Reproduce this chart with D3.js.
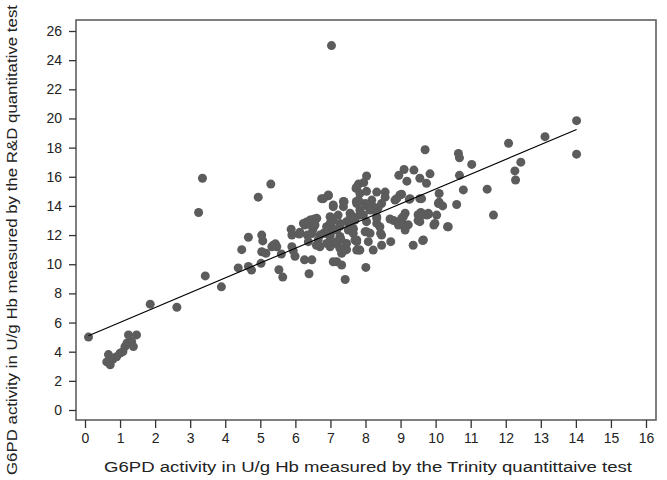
<!DOCTYPE html>
<html><head><meta charset="utf-8">
<script src="https://cdn.jsdelivr.net/npm/d3@7"></script>
<style>body{margin:0;background:#fff}svg{display:block}
text{font-family:"Liberation Sans",Arial,sans-serif;fill:#222}</style>
</head><body><svg id="c" width="667" height="480"></svg>
<script>
const xTicks = d3.range(0, 17, 1);
const yTicks = d3.range(0, 27, 2);
const xTitle = "G6PD activity in U/g Hb measured by the Trinity quantittaive test";
const yTitle = "G6PD activity in U/g Hb measured by the R&D quantitative test";
const fitX = [0.1, 14.02];
const fitY = [5.1, 19.25];
const trinity = [0.1,0.62,0.72,0.67,0.9,1.0,1.14,1.2,1.24,1.33,1.38,1.47,1.08,0.8,
1.86,2.62,3.24,3.35,3.43,3.89,4.94,5.3,7.03,
4.37,4.47,4.66,4.66,4.75,5.02,5.04,5.07,5.04,5.16,5.33,5.47,5.37,5.6,5.53,5.64,5.88,5.9,5.94,5.99,6.11,6.13,6.26,6.39,6.47,
6.23,6.4,6.55,6.5,6.34,6.65,6.7,6.6,6.37,6.47,6.61,6.32,6.47,6.27,6.56,6.7,6.8,6.89,6.89,6.99,6.99,6.99,6.99,7.0,7.08,7.32,7.42,6.99,7.18,7.32,7.46,6.89,7.08,7.27,7.08,7.56,7.65,7.75,7.75,7.37,7.08,7.56,6.8,6.94,7.37,7.73,7.8,7.8,7.18,7.22,7.27,7.46,7.27,7.27,7.46,7.7,7.18,7.18,7.51,7.7,7.84,7.84,7.65,7.94,7.56,7.3,7.42,7.65,7.82,7.75,7.84,
9.7,10.65,10.68,11.03,12.08,13.12,14.02,14.02,12.43,12.26,12.28,11.47,11.65,10.79,10.68,10.6,10.1,10.1,9.84,9.74,9.55,9.38,9.1,8.95,9.18,9.55,9.25,8.98,8.84,8.03,7.95,8.32,8.56,8.56,8.03,7.84,7.74,8.18,9.03,9.6,9.13,9.5,9.58,9.65,9.79,10.03,8.22,8.36,8.46,8.13,7.75,10.34,9.95,9.8,9.5,9.55,9.65,9.36,9.13,9.03,9.22,9.13,8.72,8.46,8.22,8.43,8.01,8.03,8.22,8.7,8.8,8.32,8.03,8.32,9.03,8.94,9.08,8.32,8.41,8.46,8.13,8.08,8.03,8.13,7.99,8.89,9.27,10.36,9.98,9.75,7.99,7.65,9.63,10.08,10.2,
5.9,5.43,6.11,6.42,6.54,6.48,6.75,6.94,7.08,7.39,7.75,7.8];
const rnd = [5.0,3.3,3.1,3.8,3.65,3.9,4.35,4.6,5.15,4.7,4.35,5.15,4.0,3.5,
7.26,7.05,13.55,15.9,9.2,8.45,14.6,15.5,25.0,
9.75,11.0,11.85,9.85,9.6,10.06,12.0,11.6,10.86,10.75,11.2,11.2,11.3,10.7,9.62,9.12,12.4,12.0,10.92,10.55,12.1,12.2,10.3,9.35,10.3,
12.8,12.9,13.0,12.4,12.0,11.66,11.2,11.3,11.55,12.1,13.15,12.9,13.03,12.69,12.69,12.0,12.12,12.57,11.43,11.9,11.55,12.8,13.26,12.1,10.17,9.95,8.95,11.2,11.4,10.75,11.0,12.1,12.4,12.6,13.0,12.8,12.4,11.66,10.97,13.95,14.06,13.5,14.5,14.75,14.3,15.2,14.4,15.5,12.35,13.37,12.8,12.92,11.9,11.09,11.43,11.66,11.55,10.17,12.35,13.03,13.37,13.72,13.26,13.37,13.15,11.7,10.97,12.12,10.97,11.55,10.97,
17.85,17.6,17.3,16.85,18.3,18.75,19.85,17.55,17.0,16.4,15.78,15.15,13.37,15.1,16.1,14.1,14.85,14.25,16.2,15.55,15.9,16.46,16.5,16.1,15.7,14.5,14.45,14.75,14.4,16.05,15.6,14.95,14.95,14.6,15.0,14.86,14.3,14.4,14.8,14.5,13.5,13.4,13.55,13.4,13.49,13.37,13.95,13.86,14.17,14.06,14.17,12.57,12.69,13.44,13.0,12.92,11.66,11.3,12.57,12.9,12.7,12.35,11.55,11.3,10.97,12.12,9.78,12.23,13.72,13.1,13.0,12.8,14.0,13.15,13.15,12.69,13.26,13.26,12.57,12.0,12.12,11.55,12.92,13.72,14.17,14.5,14.5,12.57,12.8,13.37,12.23,12.46,11.62,14.17,14.0,
11.2,11.4,12.07,13.03,13.1,12.6,14.5,14.7,13.95,14.29,15.3,14.3];

const svg = d3.select("#c");
const x = d3.scaleLinear().domain([0,16]).range([85,646]);
const y = d3.scaleLinear().domain([0,26]).range([410,31]);
const L=76,R=656,T=20,B=420;

svg.append("rect").attr("x",L).attr("y",T).attr("width",R-L).attr("height",B-T)
  .attr("fill","none").attr("stroke","#555").attr("stroke-width",1.5);

const xa = svg.append("g").attr("transform",`translate(0,${B})`)
  .call(d3.axisBottom(x).tickValues(xTicks).tickSize(8).tickPadding(5).tickFormat(d3.format("d")));
xa.select(".domain").remove();
xa.selectAll("line").attr("stroke","#333").attr("stroke-width",1.3);
xa.selectAll("text").attr("font-size",14).style("fill","#222");

const ya = svg.append("g").attr("transform",`translate(${L},0)`)
  .call(d3.axisLeft(y).tickValues(yTicks).tickSize(7).tickPadding(7).tickFormat(d3.format("d")));
ya.select(".domain").remove();
ya.selectAll("line").attr("stroke","#333").attr("stroke-width",1.3);
ya.selectAll("text").attr("font-size",14).style("fill","#222");

const pts = trinity.map((v,i)=>[v,rnd[i]]);
svg.append("g").selectAll("circle").data(pts).join("circle")
  .attr("cx",d=>x(d[0])).attr("cy",d=>y(d[1])).attr("r",4.5).attr("fill","#5c5c5c");

svg.append("line").attr("x1",x(fitX[0])).attr("y1",y(fitY[0])).attr("x2",x(fitX[1])).attr("y2",y(fitY[1]))
  .attr("stroke","#000").attr("stroke-width",1.1);

svg.append("text").attr("x",368).attr("y",472).attr("text-anchor","middle").attr("font-size",15.5)
  .attr("textLength",528).attr("lengthAdjust","spacingAndGlyphs").text(xTitle);
svg.append("text").attr("transform","translate(17,240) rotate(-90)").attr("text-anchor","middle").attr("font-size",15.5)
  .attr("textLength",470).attr("lengthAdjust","spacingAndGlyphs").text(yTitle);
</script></body></html>
